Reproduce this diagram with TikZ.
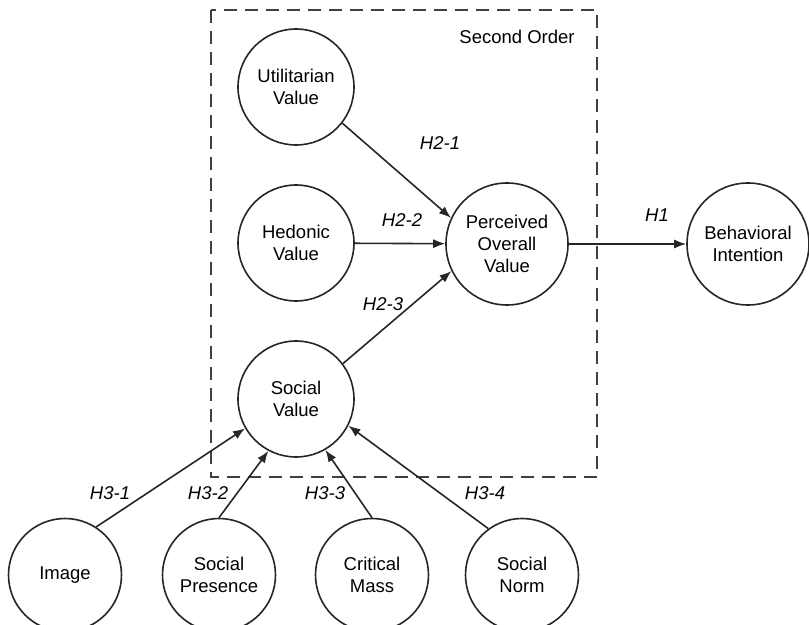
\documentclass[tikz,border=0pt]{standalone}
\usepackage{fontspec}
\setmainfont{Liberation Sans}
\usetikzlibrary{arrows.meta}

\begin{document}
\begin{tikzpicture}[
		x=0.5pt, y=-0.5pt,
		line width=0.8pt,
		font=\fontsize{9.25}{11}\selectfont
	]
	\tikzset{
		myvar/.style = {circle, draw=black!85, align=center, inner sep=0pt, minimum size=58pt},
		mybig/.style = {myvar, minimum size=61pt},
		mysmall/.style = {myvar, minimum size=56.5pt},
		mylabel/.style = {font=\fontsize{9.25}{11}\selectfont\itshape},
		myarrow/.style = {draw=black!85, -{Latex[length=6pt,width=4.5pt]}},
		mybox/.style = {draw=black!75, dash pattern=on 6.5pt off 4pt, line width=0.7pt},
	}
	\useasboundingbox (0,0) rectangle (809,625);
	\draw[mybox] (211,10) rectangle (597,477);
	\node at (517,37) (order) {Second Order};
		%
		\node[myvar] at (296,87) (util) {Utilitarian\\Value};
		\node[myvar] at (296,243) (hed) {Hedonic\\Value};
		\node[myvar] at (296,399) (soc) {Social\\Value};
		\node[mybig] at (507,244) (perc) {Perceived\\Overall\\Value};
		\node[mybig] at (748,244) (behav) {Behavioral\\Intention};
		%
		\node[mysmall] at (65,575) (img) {Image};
		\node[mysmall] at (219,575) (pres) {Social\\Presence};
		\node[mysmall] at (372,575) (mass) {Critical\\Mass};
		\node[mysmall] at (522,575) (norm) {Social\\Norm};
		%
		\draw[myarrow] (util.-38) -- (perc.155);
		\draw[myarrow] (hed) -- (perc);
		\draw[myarrow] (soc.37) -- (perc.206);
		\draw[myarrow] (perc) -- (behav);
		%
		\draw[myarrow] (img.57) -- (soc.210);
		\draw[myarrow] (pres.90) -- (soc.242);
		\draw[myarrow] (mass.90) -- (soc.300);
		\draw[myarrow] (norm.126) -- (soc.333);
		%
		\node[mylabel] at (440,143) (h21) {H2-1};
		\node[mylabel] at (402,220) (h22) {H2-2};
		\node[mylabel] at (383,304) (h23) {H2-3};
		\node[mylabel] at (657,215) (h1) {H1};
		\node[mylabel] at (110,493) (h31) {H3-1};
		\node[mylabel] at (208,493) (h32) {H3-2};
		\node[mylabel] at (325,493) (h33) {H3-3};
		\node[mylabel] at (485,493) (h34) {H3-4};
\end{tikzpicture}
\end{document}
